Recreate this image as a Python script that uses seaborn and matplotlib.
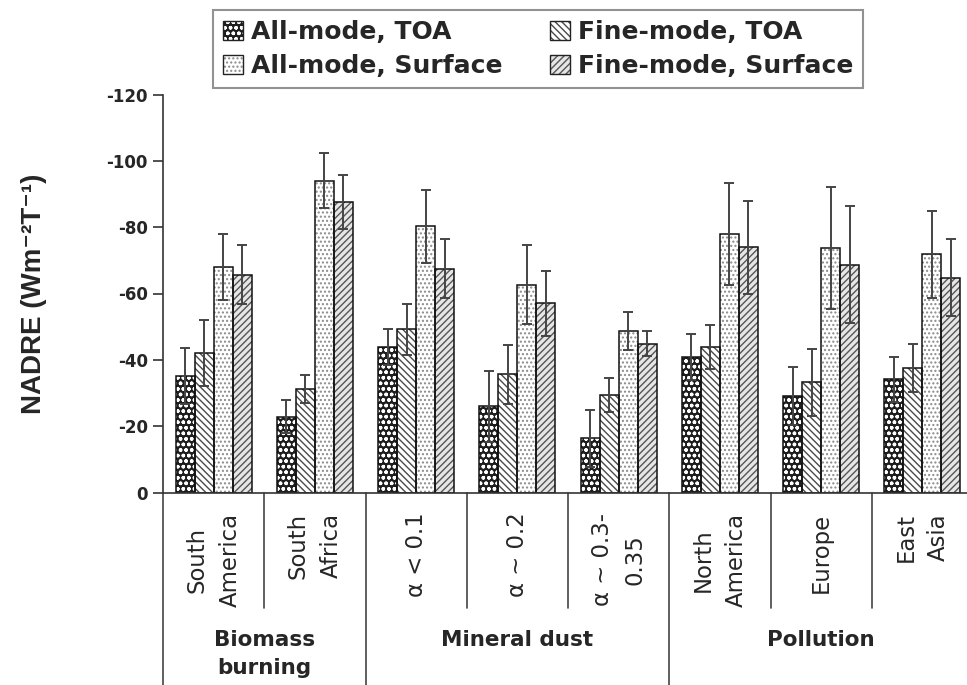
import matplotlib
matplotlib.use("Agg")
import matplotlib.pyplot as plt
import matplotlib.transforms as mtransforms
from matplotlib.patches import Patch
from matplotlib.legend_handler import HandlerTuple
import numpy as np
import pandas as pd
import seaborn as sns

# ---- data -------------------------------------------------------------
regions = ["South\nAmerica", "South\nAfrica", "α < 0.1", "α ~ 0.2",
           "α ~ 0.3-\n0.35", "North\nAmerica", "Europe", "East\nAsia"]
groups = ["Biomass\nburning", "Mineral dust", "Pollution"]
group_spans = [(0, 1), (2, 4), (5, 7)]
series = ["All-mode, TOA", "Fine-mode, TOA", "All-mode, Surface", "Fine-mode, Surface"]

all_toa = [-35.2, -22.8, -43.9, -26.0, -16.3, -40.9, -29.1, -34.1]
fine_toa = [-42.1, -31.2, -49.2, -35.6, -29.5, -43.9, -33.2, -37.6]
all_sfc = [-68.0, -94.0, -80.3, -62.7, -48.6, -77.9, -73.6, -71.8]
fine_sfc = [-65.7, -87.5, -67.5, -57.0, -44.9, -73.9, -68.7, -64.8]

all_toa_err = [8.5, 5.0, 5.5, 10.7, 8.5, 7.0, 8.8, 6.8]
fine_toa_err = [10.0, 4.3, 7.6, 8.8, 5.1, 6.7, 10.0, 7.3]
all_sfc_err = [10.0, 8.3, 11.0, 12.0, 5.7, 15.3, 18.4, 13.1]
fine_sfc_err = [9.0, 8.1, 8.8, 9.7, 3.7, 14.1, 17.6, 11.5]

values = [all_toa, fine_toa, all_sfc, fine_sfc]
errors = [all_toa_err, fine_toa_err, all_sfc_err, fine_sfc_err]
yticks = [0, -20, -40, -60, -80, -100, -120]

df = pd.DataFrame({
    "region": np.repeat([regions], 4, axis=0).ravel(),
    "series": np.repeat(series, len(regions)),
    "value": np.concatenate(values),
})

# ---- style ------------------------------------------------------------
sns.set_style("white")
plt.rcParams["font.family"] = ["DejaVu Sans"]
plt.rcParams["axes.unicode_minus"] = False
plt.rcParams["hatch.linewidth"] = 1.0

face_colors = ["#1e1e1e", "#ffffff", "#ffffff", "#e6e6e6"]
hatch_colors = ["#ffffff", "#4a4a4a", "#8a8a8a", "#555555"]
hatches = ["ooo", "\\\\\\\\\\", "....", "/////"]

fig = plt.figure(figsize=(9.67, 6.85), dpi=100)
ax = fig.add_axes([163 / 967, 1 - 492.5 / 685, 810 / 967, 398 / 685])

sns.barplot(data=df, x="region", y="value", hue="series", order=regions,
            hue_order=series, palette=face_colors, width=0.75, gap=0,
            errorbar=None, legend=False, linewidth=0, ax=ax)
fill_containers = list(ax.containers)
for cont, h, hc in zip(fill_containers, hatches, hatch_colors):
    for p in cont.patches:
        p.set_hatch(h)
        p.set_edgecolor(hc)
        p.set_linewidth(0)

# black outlines on top of the hatched fills
sns.barplot(data=df, x="region", y="value", hue="series", order=regions,
            hue_order=series, palette=["#111111"] * 4, width=0.75, gap=0,
            errorbar=None, legend=False, fill=False, linewidth=1.1, ax=ax)

# error bars
for cont, vals, errs in zip(fill_containers, values, errors):
    xs = [p.get_x() + p.get_width() / 2 for p in cont.patches]
    ax.errorbar(xs, vals, yerr=errs, fmt="none", ecolor="#444444",
                elinewidth=1.4, capsize=3.3, capthick=1.4, zorder=6)

# ---- axes -------------------------------------------------------------
ax.set_xlim(-0.5, len(regions) - 0.5)
ax.set_ylim(0, -120)
ax.set_yticks(yticks)
ax.set_yticklabels([str(t) for t in yticks], fontsize=12, fontweight="bold")
ax.tick_params(axis="y", direction="out", length=7, width=1.2, color="#333333",
               left=True, pad=4)
ax.set_xticks(range(len(regions)))
ax.set_xticklabels(regions, rotation=90, ha="center", va="top",
                   multialignment="center", fontsize=16.4, linespacing=1.55)
ax.tick_params(axis="x", length=0, pad=14.5)
ax.set_xlabel("")
ax.set_ylabel("")
for s in ["top", "right"]:
    ax.spines[s].set_visible(False)
for s in ["left", "bottom"]:
    ax.spines[s].set_color("#333333")
    ax.spines[s].set_linewidth(1.2)

# separators below the x axis
trans = mtransforms.blended_transform_factory(ax.transData, ax.transAxes)
group_edges = {-0.5} | {s[1] + 0.5 for s in group_spans}
for k in range(len(regions) + 1):
    xb = k - 0.5
    y_end = -0.49 if xb in group_edges else -0.289
    ax.plot([xb, xb], [0, y_end], transform=trans, color="#444444", lw=1.2,
            clip_on=False)

for name, (a, b) in zip(groups, group_spans):
    ax.text((a + b) / 2, -0.3455, name, transform=trans, ha="center",
            va="top", fontsize=15.5, fontweight="bold", linespacing=1.5)

fig.text(34 / 967, 1 - 294 / 685, "NADRE (Wm⁻²T⁻¹)",
         rotation=90, ha="center", va="center", fontsize=20, fontweight="bold",
         family=["Liberation Sans", "DejaVu Sans"])

# legend, filled row by row
handles = {}
for name, fc, hc, h in zip(series, face_colors, hatch_colors, hatches):
    fill = Patch(facecolor=fc, edgecolor=hc, hatch=h, linewidth=0)
    edge = Patch(facecolor="none", edgecolor="#222222", linewidth=1.0)
    handles[name] = (fill, edge)
leg_order = [series[0], series[2], series[1], series[3]]
leg = fig.legend([handles[n] for n in leg_order], leg_order, ncol=2,
                 loc="upper center",
                 bbox_to_anchor=(538 / 967, 1 - 10 / 685),
                 handler_map={tuple: HandlerTuple(ndivide=1, pad=0)},
                 prop={"size": 18, "weight": "bold"}, frameon=True,
                 fancybox=False, handlelength=0.8, handleheight=0.8,
                 handletextpad=0.32, columnspacing=1.9, labelspacing=0.4,
                 borderpad=0.4, borderaxespad=0)
leg.get_frame().set_edgecolor("#777777")
leg.get_frame().set_linewidth(1.5)

fig.savefig("out.png", dpi=100)
